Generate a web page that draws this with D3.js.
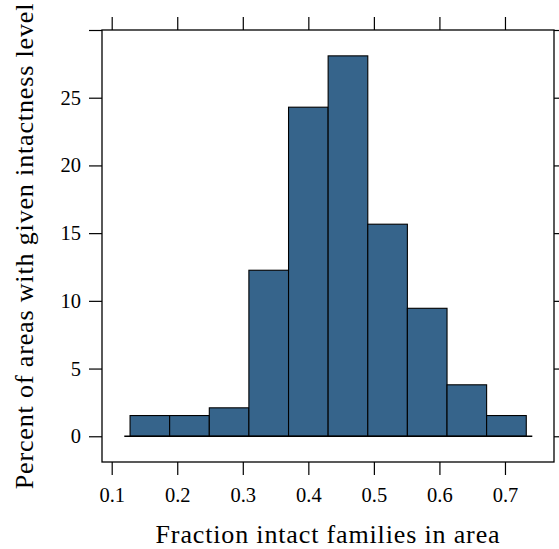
<!DOCTYPE html>
<html>
<head>
<meta charset="utf-8">
<script src="https://cdn.jsdelivr.net/npm/d3@7"></script>
<style>
  html, body { margin: 0; padding: 0; background: #fff; }
  svg { display: block; }
  text { font-family: "Liberation Serif", "DejaVu Serif", serif; fill: #000; }
</style>
</head>
<body>
<svg id="chart" width="559" height="549"></svg>
<script>
// ---- data ----
const binEdges = [0.128, 0.1884, 0.2489, 0.3093, 0.3698, 0.4302, 0.4907, 0.5511, 0.6116, 0.672, 0.7325];
const percents = [1.53, 1.53, 2.10, 12.26, 24.30, 28.09, 15.66, 9.45, 3.80, 1.53];
const xTicks = [0.1, 0.2, 0.3, 0.4, 0.5, 0.6, 0.7];
const yTicks = [0, 5, 10, 15, 20, 25, 30];
const yTickLabels = ["0", "5", "10", "15", "20", "25", ""];
const baselineRange = [0.1192, 0.7417];
const xDomain = [0.0852, 0.7748];
const yDomain = [-1.9, 30.0];
const xLabel = "Fraction intact families in area";
const yLabel = "Percent of areas with given intactness level";

// ---- layout ----
const panel = { left: 102, right: 554, top: 30, bottom: 462 };
const tickLen = 13;
const fill = "#36648B";

const svg = d3.select("#chart");
const x = d3.scaleLinear().domain(xDomain).range([panel.left, panel.right]);
const y = d3.scaleLinear().domain(yDomain).range([panel.bottom, panel.top]);

// bars
const bins = percents.map((v, i) => ({ x0: binEdges[i], x1: binEdges[i + 1], v }));
svg.append("g").selectAll("rect").data(bins).join("rect")
  .attr("x", d => x(d.x0))
  .attr("width", d => x(d.x1) - x(d.x0))
  .attr("y", d => y(d.v))
  .attr("height", d => y(0) - y(d.v))
  .attr("fill", fill)
  .attr("stroke", "#000")
  .attr("stroke-width", 1.1);

// baseline
svg.append("line")
  .attr("x1", x(baselineRange[0])).attr("x2", x(baselineRange[1]))
  .attr("y1", y(0)).attr("y2", y(0))
  .attr("stroke", "#000").attr("stroke-width", 1.3);

// axes
function styleAxis(g) {
  g.select(".domain").remove();
  g.selectAll(".tick line").attr("stroke", "#000").attr("stroke-width", 1.2);
  g.selectAll(".tick text").style("font-size", "20.5px").style("font-family", "'Liberation Serif', serif");
}
svg.append("g").attr("transform", `translate(0,${panel.bottom})`)
  .call(d3.axisBottom(x).tickValues(xTicks).tickSize(tickLen).tickPadding(12).tickFormat(d3.format(".1f")))
  .call(styleAxis);
svg.append("g").attr("transform", `translate(0,${panel.top})`)
  .call(d3.axisTop(x).tickValues(xTicks).tickSize(tickLen).tickFormat(""))
  .call(styleAxis);
svg.append("g").attr("transform", `translate(${panel.left},0)`)
  .call(d3.axisLeft(y).tickValues(yTicks).tickSize(tickLen).tickPadding(8).tickFormat((d, i) => yTickLabels[i]))
  .call(styleAxis);
svg.append("g").attr("transform", `translate(${panel.right},0)`)
  .call(d3.axisRight(y).tickValues(yTicks).tickSize(tickLen).tickFormat(""))
  .call(styleAxis);

// panel border
svg.append("rect")
  .attr("x", panel.left).attr("y", panel.top)
  .attr("width", panel.right - panel.left).attr("height", panel.bottom - panel.top)
  .attr("fill", "none").attr("stroke", "#000").attr("stroke-width", 1.3);

// axis labels
svg.append("text")
  .attr("x", (panel.left + panel.right) / 2).attr("y", 543)
  .attr("text-anchor", "middle").style("font-size", "26px").style("letter-spacing", "0.85px")
  .text(xLabel);
svg.append("text")
  .attr("transform", `translate(33,${(panel.top + panel.bottom) / 2}) rotate(-90)`)
  .attr("text-anchor", "middle").style("font-size", "26px").style("letter-spacing", "0.85px")
  .text(yLabel);
</script>
</body>
</html>
